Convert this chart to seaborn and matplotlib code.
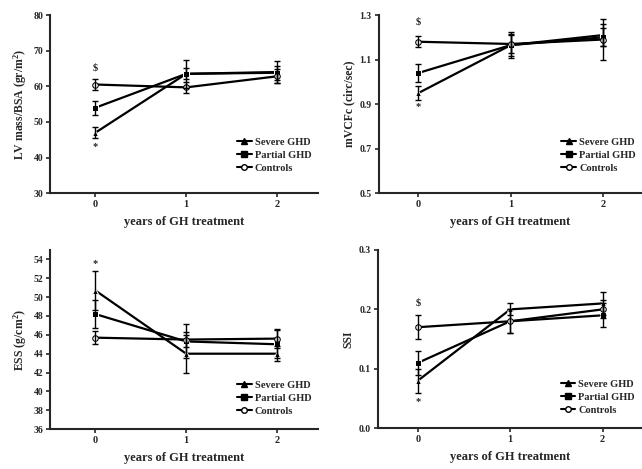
import numpy as np
import pandas as pd
import matplotlib
matplotlib.use("Agg")
import matplotlib.pyplot as plt
import seaborn as sns

# x positions (years of GH treatment)
years = [0, 1, 2]
groups = ["Severe GHD", "Partial GHD", "Controls"]

# LV mass/BSA
lv_severe = [47.0, 63.5, 64.0]
lv_partial = [54.0, 63.5, 63.8]
lv_controls = [60.5, 59.7, 62.8]
lv_err_severe = [1.5, 4.0, 3.0]
lv_err_partial = [2.0, 1.5, 2.0]
lv_err_controls = [1.5, 1.5, 2.0]

# mVCFc
vcf_severe = [0.95, 1.165, 1.21]
vcf_partial = [1.04, 1.165, 1.20]
vcf_controls = [1.18, 1.17, 1.19]
vcf_err_severe = [0.03, 0.06, 0.05]
vcf_err_partial = [0.04, 0.05, 0.04]
vcf_err_controls = [0.025, 0.04, 0.09]

# ESS
ess_severe = [50.7, 44.0, 44.0]
ess_partial = [48.2, 45.3, 45.0]
ess_controls = [45.7, 45.5, 45.6]
ess_err_severe = [2.1, 2.0, 0.8]
ess_err_partial = [1.5, 1.8, 1.5]
ess_err_controls = [0.7, 0.8, 1.0]

# SSI
ssi_severe = [0.08, 0.20, 0.21]
ssi_partial = [0.11, 0.18, 0.19]
ssi_controls = [0.17, 0.18, 0.20]
ssi_err_severe = [0.02, 0.01, 0.02]
ssi_err_partial = [0.02, 0.02, 0.02]
ssi_err_controls = [0.02, 0.02, 0.015]

panels = [
    dict(vals=[lv_severe, lv_partial, lv_controls],
         errs=[lv_err_severe, lv_err_partial, lv_err_controls],
         ylabel="LV mass/BSA (gr/m$^2$)", ylim=(30, 80),
         yticks=[30, 40, 50, 60, 70, 80], fmt="{:.0f}",
         dollar=65.2, star=43.0,
         rect=[0.078, 0.588, 0.417, 0.38], xlim=(-0.5, 2.45),
         leg_anchor=(1.0, 0.08)),
    dict(vals=[vcf_severe, vcf_partial, vcf_controls],
         errs=[vcf_err_severe, vcf_err_partial, vcf_err_controls],
         ylabel="mVCFc (circ/sec)", ylim=(0.5, 1.3),
         yticks=[0.5, 0.7, 0.9, 1.1, 1.3], fmt="{:.1f}",
         dollar=1.27, star=0.89,
         rect=[0.590, 0.588, 0.41, 0.38], xlim=(-0.43, 2.42),
         leg_anchor=(1.0, 0.08)),
    dict(vals=[ess_severe, ess_partial, ess_controls],
         errs=[ess_err_severe, ess_err_partial, ess_err_controls],
         ylabel="ESS (g/cm$^2$)", ylim=(36, 55),
         yticks=list(range(36, 55, 2)), fmt="{:.0f}",
         dollar=None, star=53.6,
         rect=[0.078, 0.085, 0.417, 0.382], xlim=(-0.5, 2.45),
         leg_anchor=(1.0, 0.04)),
    dict(vals=[ssi_severe, ssi_partial, ssi_controls],
         errs=[ssi_err_severe, ssi_err_partial, ssi_err_controls],
         ylabel="SSI", ylim=(0.0, 0.3),
         yticks=[0.0, 0.1, 0.2, 0.3], fmt="{:.1f}",
         dollar=0.21, star=0.045,
         rect=[0.589, 0.087, 0.41, 0.38], xlim=(-0.43, 2.42),
         leg_anchor=(1.0, 0.04)),
]

sns.set_style("ticks")
plt.rcParams["font.family"] = ["Liberation Serif", "DejaVu Serif"]
plt.rcParams["font.weight"] = "bold"
plt.rcParams["mathtext.default"] = "regular"

markers = {"Severe GHD": "^", "Partial GHD": "s", "Controls": "o"}
fig = plt.figure(figsize=(6.42, 4.69), dpi=100)

for p in panels:
    ax = fig.add_axes(p["rect"])
    rows = []
    for g, v in zip(groups, p["vals"]):
        for x, y in zip(years, v):
            rows.append({"year": x, "value": y, "group": g})
    df = pd.DataFrame(rows)
    sns.lineplot(data=df, x="year", y="value", hue="group", style="group",
                 markers=markers, dashes=False, palette=["black"] * 3,
                 linewidth=1.6, markersize=4.5, ax=ax, legend=False)
    for line in ax.lines:
        if line.get_marker() == "o":
            line.set_markerfacecolor("white")
            line.set_markeredgecolor("black")
            line.set_markersize(4)
    for v, e in zip(p["vals"], p["errs"]):
        ax.errorbar(years, v, yerr=e, fmt="none", ecolor="black",
                    elinewidth=1.0, capsize=2.5, capthick=1.0)
    if p["dollar"] is not None:
        ax.text(0, p["dollar"], r"\$", ha="center", va="center",
                fontsize=7.5, fontweight="bold")
    ax.text(0, p["star"], "*", ha="center", va="center",
            fontsize=7.5, fontweight="bold")

    ax.set_xlim(*p["xlim"])
    ax.set_ylim(*p["ylim"])
    ax.set_xticks(years)
    ax.set_xticklabels([str(y) for y in years], fontsize=7.5, fontweight="bold")
    ax.set_yticks(p["yticks"])
    ax.set_yticklabels([p["fmt"].format(t) for t in p["yticks"]],
                       fontsize=7, fontweight="bold")
    ax.set_xlabel("years of GH treatment", fontsize=9, fontweight="bold",
                  labelpad=5)
    ax.set_ylabel(p["ylabel"], fontsize=8.5, fontweight="bold", labelpad=3)
    ax.tick_params(length=3, width=1.2, pad=2)
    for s in ["left", "bottom"]:
        ax.spines[s].set_linewidth(1.5)
    sns.despine(ax=ax)

    handles = [plt.Line2D([], [], color="black", lw=1.5, marker=markers[g],
                          markersize=4,
                          markerfacecolor="white" if g == "Controls" else "black")
               for g in groups]
    leg = ax.legend(handles, groups, loc="lower right", frameon=False,
                    fontsize=7.5, handlelength=1.4, handletextpad=0.3,
                    labelspacing=0.35, borderaxespad=0.2,
                    bbox_to_anchor=p["leg_anchor"])
    for t in leg.get_texts():
        t.set_fontweight("bold")

fig.savefig("out.png", dpi=100)
